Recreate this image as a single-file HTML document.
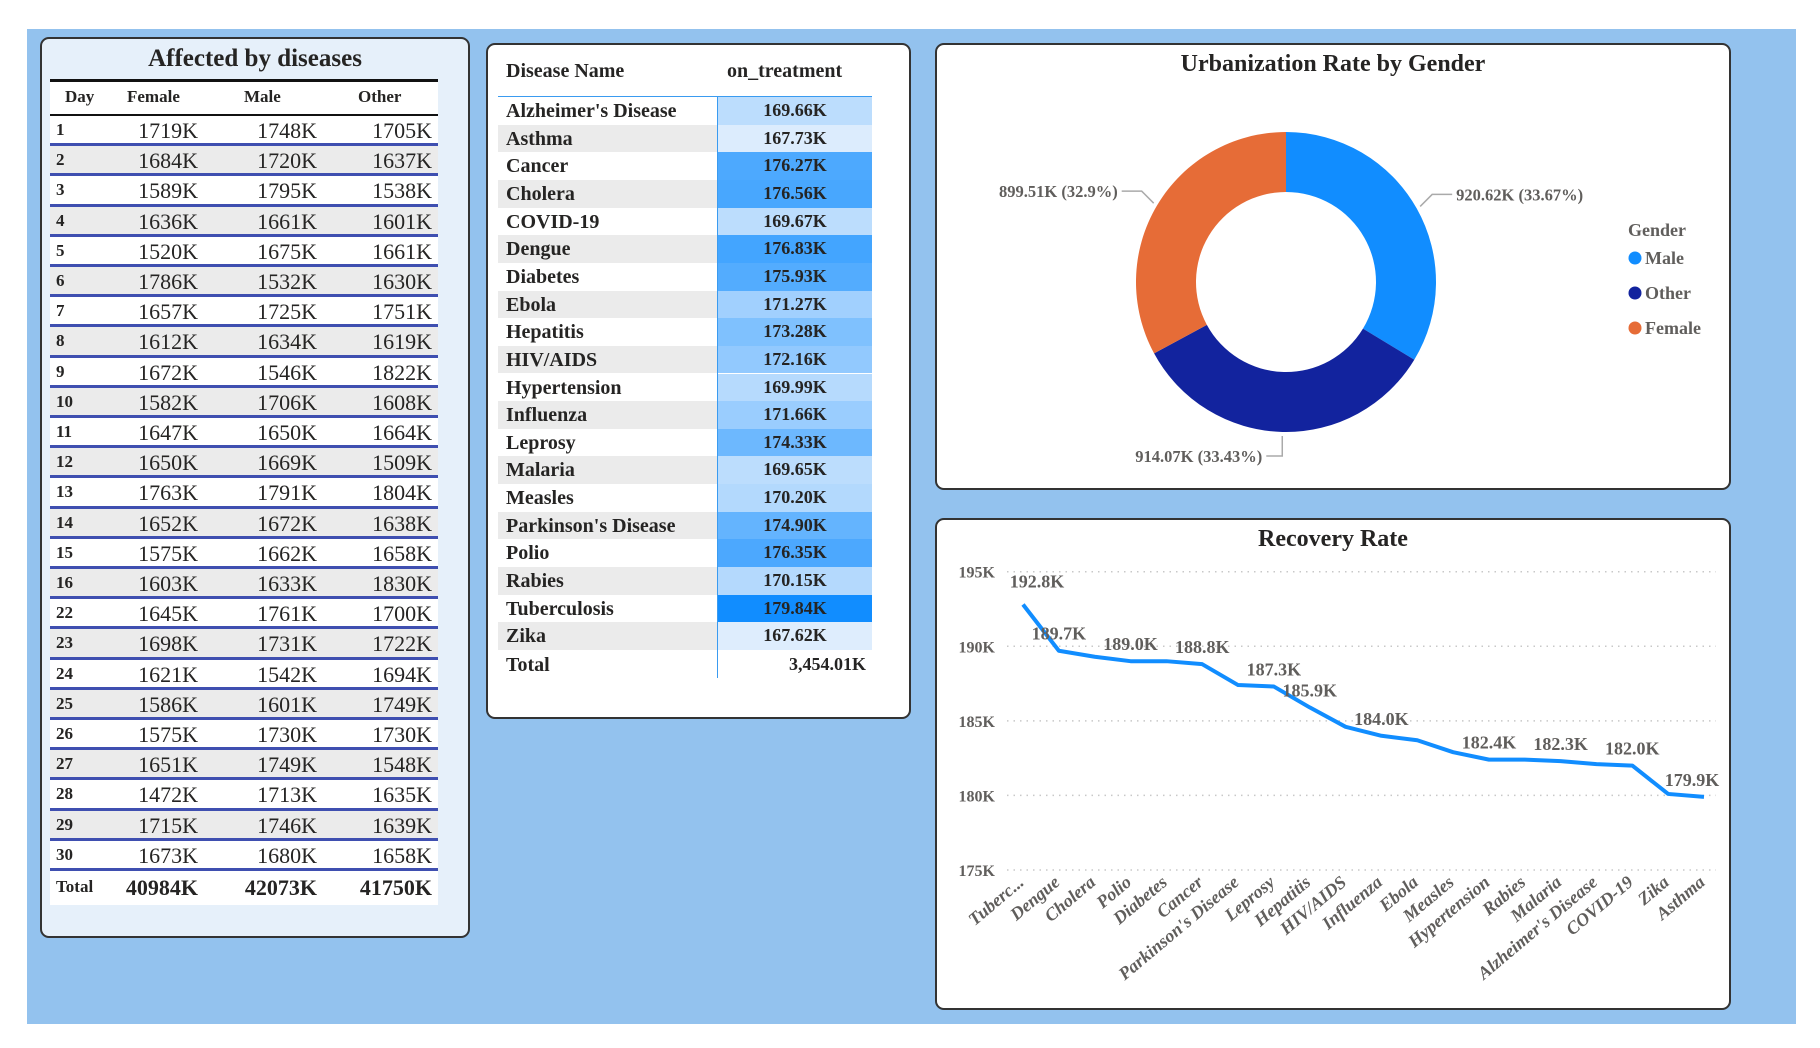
<!DOCTYPE html>
<html><head><meta charset="utf-8">
<style>
*{box-sizing:border-box;margin:0;padding:0}
body{width:1820px;height:1048px;background:#fff;position:relative;overflow:hidden;font-family:"Liberation Serif","DejaVu Serif",serif;color:#252423}
.bg{position:absolute;left:27px;top:29px;width:1769px;height:995px;background:#93c2ee}
.panel{position:absolute;background:#fff;border:2px solid #333;border-radius:9px}
.abs{position:absolute}
</style></head><body>
<div class="bg"></div>

<div class="panel" style="left:40px;top:37px;width:430px;height:901px;background:#e6f0fa">
  <div class="abs" style="left:0;width:426px;top:6px;text-align:center;font-weight:bold;font-size:25px">Affected by diseases</div>
</div>
<div id="t1" class="abs" style="left:50px;top:79px;width:388px;height:826px"></div>

<div class="panel" style="left:486px;top:43px;width:425px;height:676px">
</div>
<div id="t2" class="abs" style="left:498px;top:50px;width:374px;height:630px"></div>

<div class="panel" style="left:935px;top:43px;width:796px;height:447px">
  <div class="abs" style="left:0;width:792px;top:6px;text-align:center;font-weight:bold;font-size:24px">Urbanization Rate by Gender</div>
</div>
<svg id="donut" class="abs" style="left:0;top:0" width="1820" height="1048"></svg>

<div class="panel" style="left:935px;top:518px;width:796px;height:492px">
  <div class="abs" style="left:0;width:792px;top:6px;text-align:center;font-weight:bold;font-size:24px">Recovery Rate</div>
</div>
<svg id="line" class="abs" style="left:0;top:0" width="1820" height="1048"></svg>

<script>
// ---------- Table 1 data ----------
const days=[1,2,3,4,5,6,7,8,9,10,11,12,13,14,15,16,22,23,24,25,26,27,28,29,30];
const female=[1719,1684,1589,1636,1520,1786,1657,1612,1672,1582,1647,1650,1763,1652,1575,1603,1645,1698,1621,1586,1575,1651,1472,1715,1673];
const male=[1748,1720,1795,1661,1675,1532,1725,1634,1546,1706,1650,1669,1791,1672,1662,1633,1761,1731,1542,1601,1730,1749,1713,1746,1680];
const other=[1705,1637,1538,1601,1661,1630,1751,1619,1822,1608,1664,1509,1804,1638,1658,1830,1700,1722,1694,1749,1730,1548,1635,1639,1658];
const totals=["40984K","42073K","41750K"];

// ---------- Table 2 data ----------
const diseases=["Alzheimer's Disease","Asthma","Cancer","Cholera","COVID-19","Dengue","Diabetes","Ebola","Hepatitis","HIV/AIDS","Hypertension","Influenza","Leprosy","Malaria","Measles","Parkinson's Disease","Polio","Rabies","Tuberculosis","Zika"];
const onTreatment=[169.66,167.73,176.27,176.56,169.67,176.83,175.93,171.27,173.28,172.16,169.99,171.66,174.33,169.65,170.20,174.90,176.35,170.15,179.84,167.62];
const treatmentTotal="3,454.01K";

// ---------- Donut data ----------
const genders=["Male","Other","Female"];
const genderValues=[920.62,914.07,899.51];
const genderLabels=["920.62K (33.67%)","914.07K (33.43%)","899.51K (32.9%)"];
const genderColors=["#118dff","#12239e","#e66c37"];

// ---------- Line data ----------
const recCats=["Tuberc...","Dengue","Cholera","Polio","Diabetes","Cancer","Parkinson's Disease","Leprosy","Hepatitis","HIV/AIDS","Influenza","Ebola","Measles","Hypertension","Rabies","Malaria","Alzheimer's Disease","COVID-19","Zika","Asthma"];
const recValues=[192.8,189.7,189.3,189.0,189.0,188.8,187.4,187.3,185.9,184.6,184.0,183.7,182.9,182.4,182.4,182.3,182.1,182.0,180.1,179.9];
const recLabels=["192.8K","189.7K",null,"189.0K",null,"188.8K",null,"187.3K","185.9K",null,"184.0K",null,null,"182.4K",null,"182.3K",null,"182.0K",null,"179.9K"];
const yTicks=[175,180,185,190,195];

const NS="http://www.w3.org/2000/svg";
function mk(tag,parent,attrs,html){const e=document.createElement(tag);e.style.position='absolute';Object.assign(e.style,attrs||{});if(html!==undefined)e.textContent=html;parent.appendChild(e);return e;}
function sv(tag,parent,at){const e=document.createElementNS(NS,tag);for(const k in at)e.setAttribute(k,at[k]);parent.appendChild(e);return e;}

// Table 1
(function(){
  const t=document.getElementById('t1');
  const hdr=mk('div',t,{left:'0',top:'0',width:'388px',height:'37px',background:'#fff',borderTop:'3px solid #111',borderBottom:'2px solid #111'});
  
  
  [["Day",15],["Female",77],["Male",194],["Other",308]].forEach(([s,x])=>{
    const h=mk('div',hdr,{left:x+'px',top:'5px',fontWeight:'bold',fontSize:'17px'},s);
    
    
  });
  const rh=30.2, top0=37;
  days.forEach((d,i)=>{
    const r=mk('div',t,{left:'0',top:(top0+i*rh)+'px',width:'388px',height:rh+'px',background:i%2?'#ebebeb':'#fff',borderBottom:'3px solid #3f4fb0'});
    
    
    mk('div',r,{left:'6px',top:'4px',fontWeight:'bold',fontSize:'17px'},String(d));
    [[female[i],148],[male[i],267],[other[i],382]].forEach(([v,rx])=>{
      mk('div',r,{right:(388-rx)+'px',top:'2px',fontSize:'22px'},v+'K');
    });
  });
  const tr=mk('div',t,{left:'0',top:(top0+days.length*rh)+'px',width:'388px',height:'34px',background:'#fff'});
  
  
  mk('div',tr,{left:'6px',top:'6px',fontWeight:'bold',fontSize:'17px'},'Total');
  [148,267,382].forEach((rx,j)=>mk('div',tr,{right:(388-rx)+'px',top:'4px',fontSize:'22px',fontWeight:'bold'},totals[j]));
})();

// Table 2
(function(){
  const t=document.getElementById('t2');
  const h1=mk('div',t,{left:'8px',top:'10px',fontWeight:'bold',fontSize:'20px'},'Disease Name');
  
  
  const h2=mk('div',t,{left:'229px',top:'10px',fontWeight:'bold',fontSize:'20px'},'on_treatment');
  
  
  mk('div',t,{left:'0',top:'46px',width:'374px',height:'2px',background:'#3a9bf0'});
  const mn=Math.min(...onTreatment),mx=Math.max(...onTreatment);
  const c0=[222,237,253],c1=[17,141,255];
  const rh=27.65, top0=47;
  diseases.forEach((d,i)=>{
    const y=top0+i*rh;
    const r=mk('div',t,{left:'0',top:y+'px',width:'374px',height:rh+'px'});
    
    
    mk('div',r,{left:'0',top:'0',width:'220px',height:'100%',background:i%2?'#ebebeb':'#fff'});
    mk('div',r,{left:'8px',top:'3px',fontWeight:'bold',fontSize:'20px',whiteSpace:'nowrap'},d);
    const f=(onTreatment[i]-mn)/(mx-mn);
    const col='rgb('+c0.map((c,k)=>Math.round(c+(c1[k]-c)*f)).join(',')+')';
    mk('div',r,{left:'220px',top:'0',width:'154px',height:'100%',background:col});
    mk('div',r,{left:'220px',width:'154px',top:'3px',textAlign:'center',fontWeight:'bold',fontSize:'18px'},onTreatment[i].toFixed(2)+'K');
  });
  const ty=top0+diseases.length*rh;
  const tt=mk('div',t,{left:'8px',top:(ty+4)+'px',fontWeight:'bold',fontSize:'20px'},'Total');
  
  
  mk('div',t,{right:'6px',top:(ty+4)+'px',fontWeight:'bold',fontSize:'18px'},treatmentTotal);
  mk('div',t,{left:'219px',top:'47px',width:'1px',height:(diseases.length*rh+28)+'px',background:'#3a9bf0'});
})();

// Donut
(function(){
  const s=document.getElementById('donut');
  const cx=1286,cy=282,R=150,r=90;
  const tot=genderValues.reduce((a,b)=>a+b,0);
  let a0=0;
  genderValues.forEach((v,i)=>{
    const a1=a0+v/tot*2*Math.PI;
    const p=(a,rad)=>[cx+rad*Math.sin(a),cy-rad*Math.cos(a)];
    const [x0,y0]=p(a0,R),[x1,y1]=p(a1,R),[x2,y2]=p(a1,r),[x3,y3]=p(a0,r);
    const lg=(a1-a0)>Math.PI?1:0;
    const path=sv('path',s,{d:`M${x0},${y0}A${R},${R} 0 ${lg} 1 ${x1},${y1}L${x2},${y2}A${r},${r} 0 ${lg} 0 ${x3},${y3}Z`,fill:genderColors[i]});
    
    
    const am=(a0+a1)/2;
    const [lx,ly]=p(am,R+4);
    const right=Math.sin(am)>0.3, left=Math.sin(am)<-0.3;
    let tx,ty,anchor,pts;
    if(right){tx=lx+36;anchor='start';pts=`${lx},${ly} ${lx+12},${ly-12} ${tx-4},${ly-12}`;ty=ly-6;}
    else if(left){tx=lx-36;ty=ly-6;anchor='end';pts=`${lx},${ly} ${lx-12},${ly-12} ${tx+4},${ly-12}`;}
    else{tx=lx-20;ty=ly+26;anchor='end';pts=`${lx},${ly} ${lx},${ly+20} ${tx+4},${ly+20}`;}
    sv('polyline',s,{points:pts,fill:'none',stroke:'#aaa','stroke-width':1.5});
    const t=sv('text',s,{x:tx,y:ty,'text-anchor':anchor,'font-size':16.5,'font-weight':'bold',fill:'#605e5c','font-family':'Liberation Serif, serif'});
    t.textContent=genderLabels[i];
    
    
    a0=a1;
  });
  const g=sv('text',s,{x:1628,y:236,'font-size':18,'font-weight':'bold',fill:'#605e5c','font-family':'Liberation Serif, serif'});
  g.textContent='Gender';
  
  
  genders.forEach((n,i)=>{
    const y=258+i*35;
    const c=sv('circle',s,{cx:1635,cy:y,r:6.5,fill:genderColors[i]});
    
    
    const t=sv('text',s,{x:1645,y:y+6,'font-size':18,'font-weight':'bold',fill:'#605e5c','font-family':'Liberation Serif, serif'});
    t.textContent=n;
    
    
  });
})();

// Line chart
(function(){
  const s=document.getElementById('line');
  const x0=1023,x1=1704,yTop=571.7,yBot=870,vMin=175,vMax=195;
  const X=i=>x0+i*(x1-x0)/(recCats.length-1);
  const Y=v=>yBot-(v-vMin)/(vMax-vMin)*(yBot-yTop);
  yTicks.forEach(v=>{
    const l=sv('line',s,{x1:1007,x2:1716,y1:Y(v),y2:Y(v),stroke:'#c8c8c8','stroke-width':1.5,'stroke-dasharray':'1.5 5'});
    
    
    const t=sv('text',s,{x:995,y:Y(v)+6,'text-anchor':'end','font-size':16,'font-weight':'bold',fill:'#605e5c','font-family':'Liberation Serif, serif'});
    t.textContent=v+'K';
    
    
  });
  const pl=sv('polyline',s,{points:recValues.map((v,i)=>X(i)+','+Y(v)).join(' '),fill:'none',stroke:'#118dff','stroke-width':4,'stroke-linejoin':'round'});
  
  
  recLabels.forEach((lb,i)=>{
    if(!lb)return;
    const dx=i===0?14:(i===recCats.length-1?-12:0);
    const t=sv('text',s,{x:X(i)+dx,y:Y(recValues[i])-(i===0?17:11),'text-anchor':'middle','font-size':18,'font-weight':'bold',fill:'#605e5c','font-family':'Liberation Serif, serif'});
    t.textContent=lb;
    
    
  });
  recCats.forEach((c,i)=>{
    const x=X(i)+2,y=884;
    const t=sv('text',s,{x:x,y:y,'text-anchor':'end',transform:`rotate(-40 ${x} ${y})`,'font-size':18,'font-weight':'bold','font-style':'italic',fill:'#605e5c','font-family':'Liberation Serif, serif'});
    t.textContent=c;
    
    
  });
})();
</script>
</body></html>
